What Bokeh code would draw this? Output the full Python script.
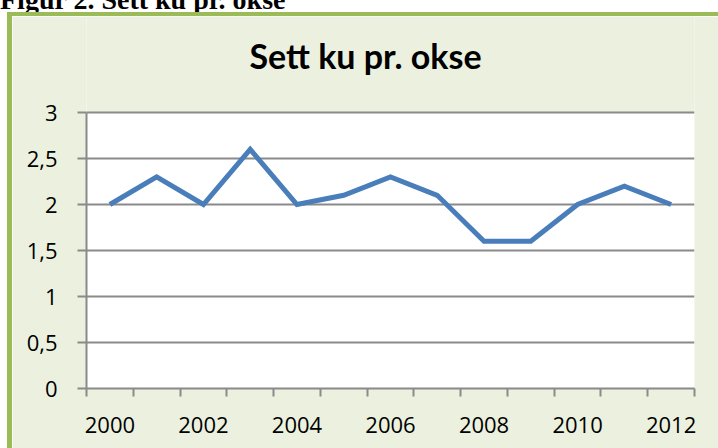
from bokeh.plotting import figure
from bokeh.models import Range1d, FixedTicker, CustomJSTickFormatter, Label, Div
from bokeh.layouts import column
from bokeh.embed import file_html
from bokeh.resources import INLINE

# ---- data ----
years = [2000, 2001, 2002, 2003, 2004, 2005, 2006, 2007, 2008, 2009, 2010, 2011, 2012]
ku_per_okse = [2.0, 2.3, 2.0, 2.6, 2.0, 2.1, 2.3, 2.1, 1.6, 1.6, 2.0, 2.2, 2.0]
x_tick_labels = [2000, 2002, 2004, 2006, 2008, 2010, 2012]
y_ticks = [0, 0.5, 1, 1.5, 2, 2.5, 3]
chart_title = "Sett ku pr. okse"
caption = "Figur 2. Sett ku pr. okse"

GRID = "#8A8A8A"
BG = "#EBF1DE"
OLIVE = "#9BBB59"
LINE = "#4A7EBB"

# figure sits inside the olive frame, at (12, 16) of the page
W, H = 706, 432
FL, FR, FB = 74, 682, 372          # frame left / right / bottom (canvas px)
PLOT_TOP = 96                       # pixel row of y = 3
X0, X1 = years[0] - 0.5, years[-1] + 0.5
Y0, Y1 = y_ticks[0], y_ticks[-1]
Y_TOP = Y1 + PLOT_TOP * (Y1 - Y0) / (FB - PLOT_TOP)   # frame extends up to the canvas top

p = figure(width=W, height=H, output_backend="svg", toolbar_location=None,
           x_range=Range1d(X0, X1), y_range=Range1d(Y0, Y_TOP),
           min_border_left=FL, min_border_right=W - FR, min_border_top=0, min_border_bottom=H - FB,
           margin=(0, 0, 0, 12))
p.styles = {"box-shadow": f"-5px -4px 0 0 {OLIVE}, 0 -4px 0 0 {OLIVE}, -5px 0 0 0 {OLIVE}"}
p.background_fill_color = BG
p.border_fill_color = BG
p.outline_line_color = None

# white plot area
p.quad(left=[X0], right=[X1], bottom=[Y0], top=[Y1], fill_color="white", line_color=None, level="underlay")

boundaries = [y - 0.5 for y in years] + [years[-1] + 0.5]
xa = p.xaxis[0]
xa.ticker = FixedTicker(ticks=x_tick_labels, minor_ticks=boundaries)
xa.axis_line_color = GRID
xa.axis_line_width = 2
xa.major_tick_line_color = None
xa.major_tick_out = 0
xa.major_tick_in = 0
xa.minor_tick_out = 8
xa.minor_tick_in = 0
xa.minor_tick_line_color = GRID
xa.minor_tick_line_width = 2
xa.major_label_standoff = 20
xa.major_label_text_font = "Open Sans"
xa.major_label_text_font_size = "22px"
xa.major_label_text_color = "black"

ya = p.yaxis[0]
ya.ticker = FixedTicker(ticks=y_ticks)
ya.bounds = (Y0, Y1)
ya.formatter = CustomJSTickFormatter(code="return tick.toString().replace('.', ',')")
ya.axis_line_color = GRID
ya.axis_line_width = 2
ya.major_tick_line_color = GRID
ya.major_tick_line_width = 2
ya.major_tick_out = 9
ya.major_tick_in = 0
ya.minor_tick_line_color = None
ya.major_label_standoff = 20
ya.major_label_text_font = "Open Sans"
ya.major_label_text_font_size = "22px"
ya.major_label_text_color = "black"

p.xgrid.grid_line_color = None
p.ygrid.grid_line_color = GRID
p.ygrid.grid_line_width = 2

p.line(years, ku_per_okse, line_color=LINE, line_width=5, line_join="miter")

p.add_layout(Label(x=353, y=39, x_units="canvas", y_units="canvas", text=chart_title,
                   text_font="Lato", text_font_style="bold", text_font_size="34px",
                   text_align="center", text_baseline="alphabetic", text_color="black"))

cap_html = ('<div style="font-family:\'Liberation Serif\'; font-weight:bold; font-size:28px; '
            'line-height:28px; white-space:nowrap; margin-top:-22px; position:relative; top:-3px; '
            'color:black;">' + caption + '</div>')
cap_div = Div(text=cap_html, width=718, height=16, margin=0, styles={"overflow": "hidden"})

layout = column(cap_div, p, spacing=0)

open("out.html", "w").write(file_html(layout, INLINE))
